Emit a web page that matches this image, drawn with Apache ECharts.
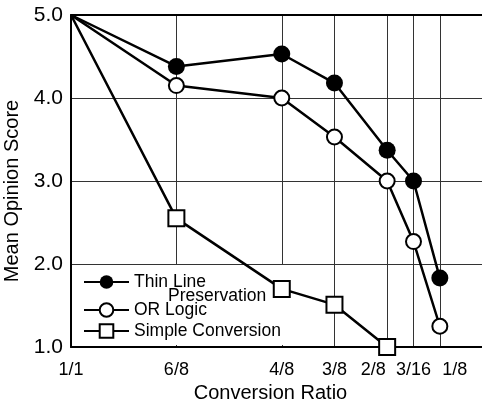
<!DOCTYPE html>
<html>
<head>
<meta charset="utf-8">
<script src="https://cdn.jsdelivr.net/npm/echarts@6/dist/echarts.min.js"></script>
<style>
  html, body { margin: 0; padding: 0; background: #fff; }
  #myChart { width: 482px; height: 401px; }
</style>
</head>
<body>
<div id="myChart"></div>
<script>
  // conversion ratios (x) and their labels
  var ratioValues = [1, 0.75, 0.5, 0.375, 0.25, 0.1875, 0.125];
  var ratioLabels = ['1/1', '6/8', '4/8', '3/8', '2/8', '3/16', '1/8'];
  var scoreTicks = [1, 2, 3, 4, 5];

  // mean opinion scores
  var thinLine = [5.0, 4.38, 4.53, 4.18, 3.37, 3.0, 1.83];
  var orLogic = [5.0, 4.15, 4.0, 3.53, 3.0, 2.27, 1.25];
  var simpleConv = [5.0, 2.55, 1.70, 1.51, 1.0];

  var seriesNames = ['Thin Line Preservation', 'OR Logic', 'Simple Conversion'];

  function pairs(ys) {
    return ys.map(function (y, i) {
      var item = { value: [ratioValues[i], y] };
      if (i === 0) item.symbol = 'none';   // no marker at the 1/1 corner
      return item;
    });
  }

  var myChart = echarts.init(document.getElementById('myChart'));
  var font = "'Liberation Sans', Arial, Helvetica, sans-serif";
  var lineW = 2.5;

  // some labels are pushed sideways in the original to avoid crowding
  var nudge = { '2/8': 'l', '1/8': 'r' };

  var legendBase = {
    orient: 'vertical',
    left: 83,
    padding: 0,
    itemWidth: 45,
    itemHeight: 17,
    textStyle: { fontSize: 17.5, color: '#000', fontFamily: font }
  };

  myChart.setOption({
    animation: false,
    textStyle: { fontFamily: font },
    grid: { left: 71, right: 0, top: 15, bottom: 54, outerBoundsMode: 'none' },
    graphic: [
      {
        // white patch behind the legend hides the grid lines there
        type: 'rect',
        left: 72, top: 265,
        shape: { width: 211, height: 80 },
        style: { fill: '#fff' },
        z: 1
      }
    ],
    legend: [
      Object.assign({}, legendBase, {
        data: [seriesNames[0]],
        top: 259,
        formatter: function () { return '\n{a|Thin Line}\n{b|Preservation}'; },
        textStyle: {
          fontSize: 17.5, color: '#000', fontFamily: font, lineHeight: 14,
          rich: {
            a: { fontSize: 17.5, lineHeight: 14, color: '#000', fontFamily: font },
            b: { fontSize: 17.5, lineHeight: 14, color: '#000', fontFamily: font, padding: [0, 0, 0, 34] }
          }
        }
      }),
      Object.assign({}, legendBase, { data: [seriesNames[1]], top: 301 }),
      Object.assign({}, legendBase, { data: [seriesNames[2]], top: 322 })
    ],
    xAxis: [
      {
        type: 'value',
        inverse: true,
        min: 0.025,
        max: 1,
        name: 'Conversion Ratio',
        nameLocation: 'middle',
        nameGap: 32,
        nameTextStyle: { fontSize: 20, color: '#000', padding: [0, 12, 0, 0] },
        axisLine: { onZero: false, lineStyle: { color: '#000', width: 2 } },
        axisTick: { show: false, customValues: ratioValues },
        axisLabel: {
          customValues: ratioValues,
          margin: 14,
          fontSize: 18,
          color: '#000',
          formatter: function (v) {
            var k = ratioValues.indexOf(v);
            var s = k >= 0 ? ratioLabels[k] : '';
            if (nudge[s]) return '{' + nudge[s] + '|' + s + '}';
            return s;
          },
          rich: {
            l: { fontSize: 18, color: '#000', padding: [0, 28, 0, 0] },
            r: { fontSize: 18, color: '#000', padding: [0, 0, 0, 30] }
          }
        },
        splitLine: { show: true, lineStyle: { color: '#333', width: 1 } }
      },
      {
        type: 'value',
        position: 'top',
        inverse: true,
        min: 0.025,
        max: 1,
        axisLine: { onZero: false, lineStyle: { color: '#000', width: 2 } },
        axisTick: { show: false },
        axisLabel: { show: false },
        splitLine: { show: false }
      }
    ],
    yAxis: {
      type: 'value',
      min: scoreTicks[0],
      max: scoreTicks[scoreTicks.length - 1],
      interval: 1,
      name: 'Mean Opinion Score',
      nameLocation: 'middle',
      nameGap: 42,
      nameTextStyle: { fontSize: 20, color: '#000', padding: [0, 20, 0, 0] },
      axisLine: { show: true, onZero: false, lineStyle: { color: '#000', width: 2 } },
      axisTick: { show: false },
      axisLabel: {
        margin: 8,
        fontSize: 21,
        color: '#000',
        formatter: function (v) { return v.toFixed(1); }
      },
      splitLine: { show: true, lineStyle: { color: '#333', width: 1 } }
    },
    series: [
      {
        name: seriesNames[0],
        type: 'line',
        data: pairs(thinLine),
        symbol: 'circle',
        symbolSize: 17,
        lineStyle: { color: '#000', width: lineW },
        itemStyle: { color: '#000' }
      },
      {
        name: seriesNames[1],
        type: 'line',
        data: pairs(orLogic),
        symbol: 'circle',
        symbolSize: 15,
        lineStyle: { color: '#000', width: lineW },
        itemStyle: { color: '#fff', borderColor: '#000', borderWidth: 2 }
      },
      {
        name: seriesNames[2],
        type: 'line',
        data: pairs(simpleConv),
        symbol: 'rect',
        symbolSize: 16,
        lineStyle: { color: '#000', width: lineW },
        itemStyle: { color: '#fff', borderColor: '#000', borderWidth: 2 }
      }
    ]
  });
</script>
</body>
</html>
